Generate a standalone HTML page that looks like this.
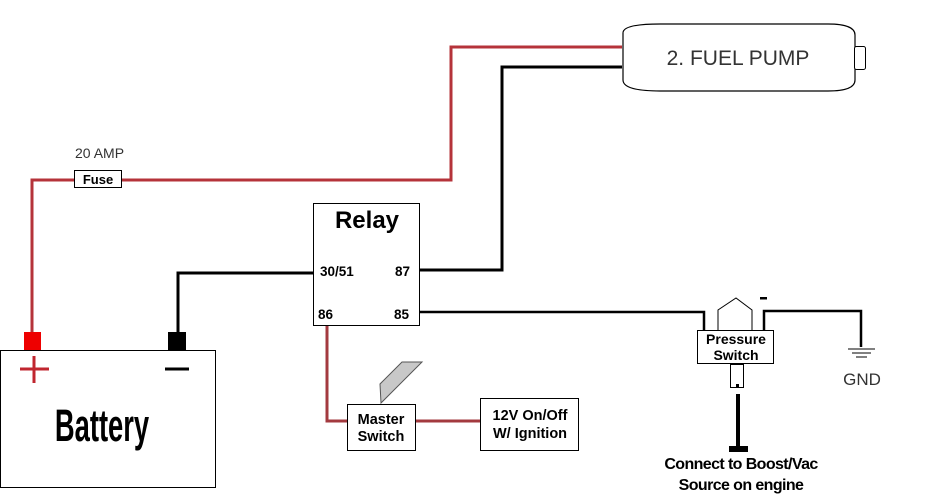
<!DOCTYPE html>
<html><head><meta charset="utf-8"><style>
html,body{margin:0;padding:0;background:#fff;}
svg{display:block;}
.b{font-family:"Liberation Sans",sans-serif;font-weight:bold;fill:#000;}
.n{font-family:"Liberation Sans",sans-serif;fill:#333;}
</style></head><body>
<svg width="925" height="495" viewBox="0 0 925 495" xmlns="http://www.w3.org/2000/svg">
<rect width="925" height="495" fill="#fff"/>
<polyline points="32,332 32,180 74,180" fill="none" stroke="#b5333a" stroke-width="3"/>
<polyline points="121,180 451,180 451,47 622,47" fill="none" stroke="#b5333a" stroke-width="3"/>
<polyline points="327,325 327,421 347,421" fill="none" stroke="#a33a3f" stroke-width="3"/>
<line x1="415" y1="421" x2="481" y2="421" stroke="#a33a3f" stroke-width="3"/>
<polyline points="178,332 178,273 313,273" fill="none" stroke="#000" stroke-width="3"/>
<polyline points="419,270 502,270 502,67 622,67" fill="none" stroke="#000" stroke-width="3"/>
<polyline points="419,312 704,312 704,331" fill="none" stroke="#000" stroke-width="2.5"/>
<polyline points="764,331 764,311 861,311 861,347" fill="none" stroke="#000" stroke-width="2.5"/>
<rect x="74.5" y="170.5" width="47" height="17" fill="#fff" stroke="#000" stroke-width="1"/>
<text x="98" y="184" class="b" font-size="13" text-anchor="middle">Fuse</text>
<text x="75" y="158" class="n" font-size="14">20 AMP</text>
<rect x="24" y="332" width="17" height="18" fill="#e00"/>
<rect x="168" y="332" width="18" height="18" fill="#000"/>
<rect x="0.5" y="350.5" width="215" height="137" fill="#fff" stroke="#000" stroke-width="1"/>
<line x1="20" y1="369" x2="49" y2="369" stroke="#c0262f" stroke-width="3"/>
<line x1="34" y1="356" x2="34" y2="383" stroke="#c0262f" stroke-width="3"/>
<line x1="165" y1="369" x2="189" y2="369" stroke="#000" stroke-width="3"/>
<text x="0" y="0" class="b" font-size="38" text-anchor="middle" transform="translate(102 441) scale(0.72 1.2)">Battery</text>
<rect x="313.5" y="203.5" width="106" height="122" fill="#fff" stroke="#000" stroke-width="1"/>
<text x="367" y="228" class="b" font-size="24" text-anchor="middle">Relay</text>
<text x="320" y="276" class="b" font-size="13.5">30/51</text>
<text x="395" y="276" class="b" font-size="13.5">87</text>
<text x="318" y="319" class="b" font-size="13.5">86</text>
<text x="394" y="319" class="b" font-size="13.5">85</text>
<polygon points="402,362 422,362 381,403 380,384" fill="#c8c8c8" stroke="#555" stroke-width="1"/>
<rect x="347.5" y="404.5" width="68" height="46" fill="#fff" stroke="#000" stroke-width="1"/>
<text x="381" y="424" class="b" font-size="14.5" text-anchor="middle">Master</text>
<text x="381" y="441" class="b" font-size="14.5" text-anchor="middle">Switch</text>
<rect x="480.5" y="398.5" width="98" height="52" fill="#fff" stroke="#000" stroke-width="1"/>
<text x="530" y="420" class="b" font-size="14.5" text-anchor="middle">12V On/Off</text>
<text x="530" y="438" class="b" font-size="14.5" text-anchor="middle">W/ Ignition</text>
<path d="M623,33 Q623,24 660,24 L828,24 Q855,24 855,35 L855,80 Q855,91 828,91 L660,91 Q623,91 623,80 Z" fill="#fff" stroke="#000" stroke-width="1.2"/>
<rect x="854.5" y="46.5" width="11" height="23" rx="2" fill="#fff" stroke="#000" stroke-width="1"/>
<text x="738" y="65" class="n" font-size="21" text-anchor="middle">2. FUEL PUMP</text>
<polyline points="718,331 718,310 736,298 752,310 752,331" fill="none" stroke="#000" stroke-width="1"/>
<rect x="760" y="297" width="7" height="2.5" fill="#000"/>
<rect x="697.5" y="330.5" width="76" height="33" fill="#fff" stroke="#000" stroke-width="1"/>
<text x="736" y="344" class="b" font-size="14" text-anchor="middle">Pressure</text>
<text x="736" y="360" class="b" font-size="14" text-anchor="middle">Switch</text>
<rect x="730.5" y="364.5" width="13" height="23" fill="#fff" stroke="#000" stroke-width="1"/>
<rect x="736" y="384" width="3" height="3" fill="#000"/>
<line x1="738" y1="394" x2="738" y2="447" stroke="#000" stroke-width="4"/>
<rect x="729" y="446" width="19" height="6" fill="#000"/>
<text x="741" y="469" class="b" font-size="16" text-anchor="middle" letter-spacing="-0.6">Connect to Boost/Vac</text>
<text x="741" y="490" class="b" font-size="16" text-anchor="middle" letter-spacing="-0.6">Source on engine</text>
<line x1="848" y1="349" x2="875" y2="349" stroke="#000" stroke-width="1"/>
<line x1="852" y1="353" x2="871" y2="353" stroke="#000" stroke-width="1"/>
<line x1="856" y1="357" x2="867" y2="357" stroke="#000" stroke-width="1"/>
<text x="862" y="385" class="n" font-size="17" text-anchor="middle">GND</text>
</svg>
</body></html>
